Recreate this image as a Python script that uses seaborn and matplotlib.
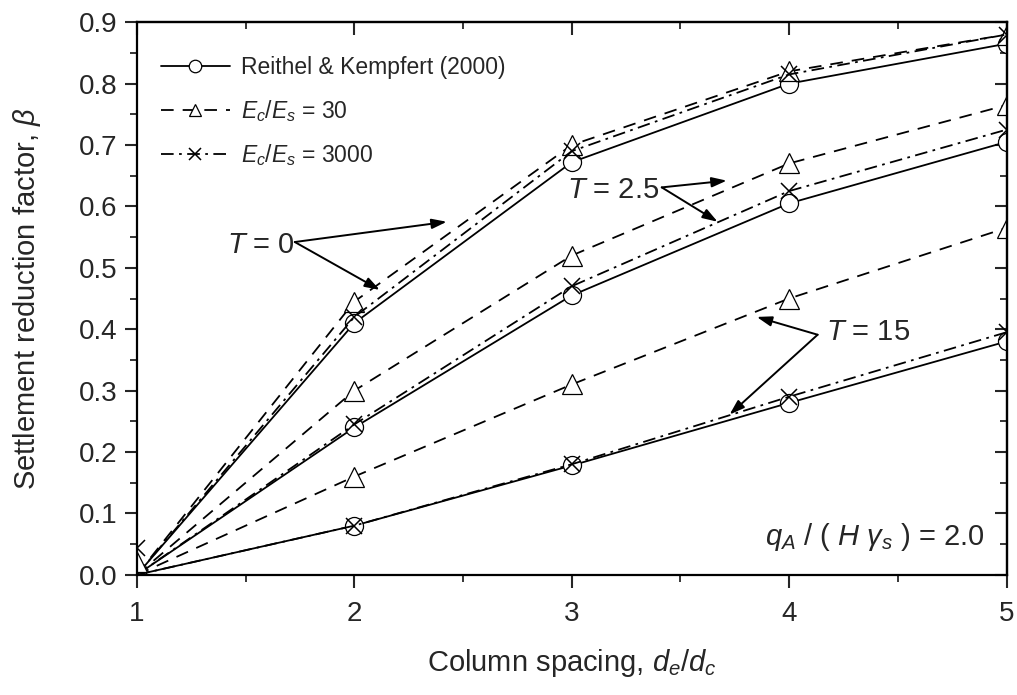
import numpy as np
import pandas as pd
import matplotlib
matplotlib.use("Agg")
import matplotlib.pyplot as plt
import seaborn as sns
from matplotlib.ticker import MultipleLocator

# column spacing de/dc
spacing = [1, 2, 3, 4, 5]

# Reithel & Kempfert (2000), circles
rk_T0 = [0.0, 0.41, 0.672, 0.80, 0.865]
rk_T25 = [0.0, 0.24, 0.455, 0.605, 0.705]
rk_T15 = [0.0, 0.08, 0.178, 0.28, 0.38]

# Ec/Es = 30, triangles
e30_T0 = [0.0, 0.445, 0.70, 0.82, 0.88]
e30_T25 = [0.0, 0.30, 0.52, 0.67, 0.765]
e30_T15 = [0.0, 0.16, 0.31, 0.45, 0.565]

# Ec/Es = 3000, crosses
e3000_T0 = [0.0, 0.42, 0.69, 0.815, 0.88]
e3000_T25 = [0.0, 0.245, 0.47, 0.625, 0.725]
e3000_T15 = [0.0, 0.08, 0.18, 0.29, 0.395]

# odd marker positions at de/dc = 1
start_tri = 0.02
start_x = 0.044

sns.set_style("white")
plt.rcParams['font.family'] = ['Liberation Sans', 'DejaVu Sans']
plt.rcParams['mathtext.fontset'] = 'custom'
plt.rcParams['mathtext.rm'] = 'Liberation Sans'
plt.rcParams['mathtext.it'] = 'Liberation Sans:italic'

fig = plt.figure(figsize=(10.17, 6.95), dpi=100)
ax = fig.add_axes([0.1347, 0.173, 0.855, 0.795])

lw = 1.3
circ = dict(marker='o', markersize=13, markerfacecolor='white', markeredgecolor='black', markeredgewidth=0.9)
tri = dict(marker='^', markersize=14, markerfacecolor='white', markeredgecolor='black', markeredgewidth=0.9)
cross = dict(marker='x', markersize=12, markeredgecolor='black', markeredgewidth=1.1)

rk_sets = [rk_T0, rk_T25, rk_T15]
e30_sets = [e30_T0, e30_T25, e30_T15]
e3000_sets = [e3000_T0, e3000_T25, e3000_T15]

for i in range(3):
    lab = (i == 0)
    sns.lineplot(x=spacing, y=rk_sets[i], ax=ax, color='black', lw=lw, linestyle='-',
                 label="Reithel & Kempfert (2000)" if lab else None, **circ)
    sns.lineplot(x=spacing, y=e30_sets[i], ax=ax, color='black', lw=lw, dashes=(7, 5),
                 label="$E_c/E_s$ = 30" if lab else None, **tri)
    sns.lineplot(x=spacing, y=e3000_sets[i], ax=ax, color='black', lw=lw, dashes=(7, 3, 1.5, 3),
                 label="$E_c/E_s$ = 3000" if lab else None, **cross)

# markers at the origin end
ax.plot([1], [start_tri], linestyle='none', **tri)
ax.plot([1], [start_x], linestyle='none', **cross)

ax.set_xlim(1, 5)
ax.set_ylim(0, 0.9)
ax.xaxis.set_major_locator(MultipleLocator(1))
ax.xaxis.set_minor_locator(MultipleLocator(0.5))
ax.yaxis.set_major_locator(MultipleLocator(0.1))
ax.yaxis.set_minor_locator(MultipleLocator(0.05))
ax.yaxis.set_major_formatter(matplotlib.ticker.FormatStrFormatter('%.1f'))

for s in ax.spines.values():
    s.set_linewidth(1.6)
    s.set_color('black')
ax.tick_params(which='major', direction='out', length=9, width=1.5, labelsize=20, pad=5,
               left=True, bottom=True)
ax.tick_params(axis='x', which='major', pad=10)
ax.tick_params(which='minor', direction='out', length=5, width=1.3, left=True, bottom=True)

top = ax.secondary_xaxis('top')
top.xaxis.set_major_locator(MultipleLocator(1))
top.xaxis.set_minor_locator(MultipleLocator(0.5))
top.tick_params(which='major', direction='in', length=9, width=1.5, labeltop=False)
top.tick_params(which='minor', direction='in', length=5, width=1.3)
top.spines['top'].set_linewidth(1.6)

right = ax.secondary_yaxis('right')
right.yaxis.set_major_locator(MultipleLocator(0.1))
right.yaxis.set_minor_locator(MultipleLocator(0.05))
right.tick_params(which='major', direction='in', length=9, width=1.5, labelright=False)
right.tick_params(which='minor', direction='in', length=5, width=1.3)
right.spines['right'].set_linewidth(1.6)

ax.set_xlabel("Column spacing, $d_e$/$d_c$", fontsize=21, labelpad=14)
ax.set_ylabel("Settlement reduction factor, $\\beta$", fontsize=21, labelpad=26)

leg = ax.legend(loc='upper left', bbox_to_anchor=(0.017, 0.955), frameon=False, fontsize=16.5,
                handlelength=3.0, borderaxespad=0, labelspacing=0.8, handletextpad=0.5)
for h in leg.legend_handles:
    h.set_markersize(9)

arrow = dict(arrowstyle='-|>,head_length=0.9,head_width=0.3', color='black', lw=1.4,
             shrinkA=0, shrinkB=0)

# T = 0
ax.text(1.414, 0.537, "$T$ = 0", fontsize=21, va='center')
ax.annotate("", xy=(2.425, 0.575), xytext=(1.726, 0.542), arrowprops=arrow)
ax.annotate("", xy=(2.117, 0.464), xytext=(1.726, 0.542), arrowprops=arrow)

# T = 2.5
ax.text(2.98, 0.626, "$T$ = 2.5", fontsize=21, va='center')
ax.annotate("", xy=(3.713, 0.642), xytext=(3.414, 0.631), arrowprops=arrow)
ax.annotate("", xy=(3.671, 0.575), xytext=(3.414, 0.631), arrowprops=arrow)

# T = 15
ax.text(4.17, 0.396, "$T$ = 15", fontsize=21, va='center')
ax.annotate("", xy=(3.851, 0.420), xytext=(4.131, 0.391), arrowprops=arrow)
ax.annotate("", xy=(3.726, 0.261), xytext=(4.131, 0.391), arrowprops=arrow)

ax.text(4.9, 0.062, "$q_A$ / ( $H$ $\\gamma_s$ ) = 2.0", fontsize=21, ha='right', va='center')

fig.savefig("out.png", dpi=100)
